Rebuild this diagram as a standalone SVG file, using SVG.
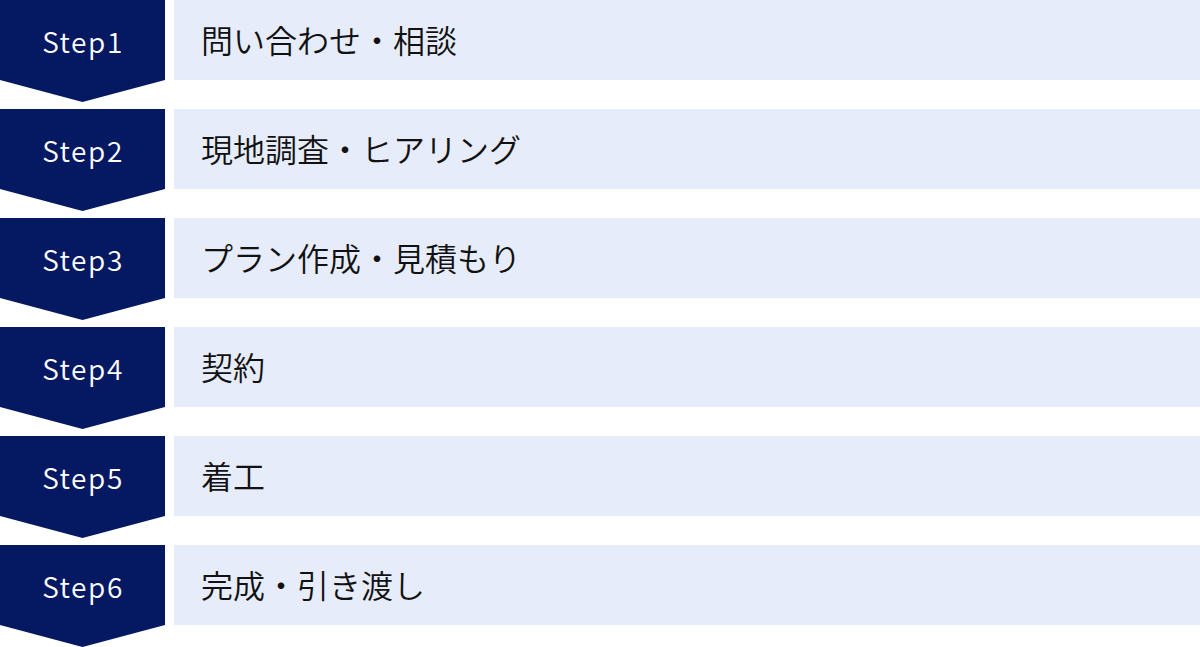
<svg xmlns="http://www.w3.org/2000/svg" width="1200" height="647" viewBox="0 0 1200 647">
<style>
.chev{fill:#051862}
.box{fill:#e6ecf9}
.step{font-family:"Noto Sans CJK JP","Noto Sans",sans-serif;font-size:28px;font-weight:350;fill:#ffffff;text-anchor:middle;letter-spacing:1.6px}
.lbl{font-family:"Noto Sans CJK JP","Noto Sans",sans-serif;font-size:32px;font-weight:350;fill:#111111}
</style>
<rect width="1200" height="647" fill="#ffffff"/>
<g id="step1">
<path class="chev" d="M0,0H165V80L82.5,102L0,80Z"/>
<rect class="box" x="174" y="0" width="1026" height="80"/>
<text class="step" x="83" y="53">Step1</text>
<text class="lbl" x="201" y="53">問い合わせ・相談</text>
</g>
<g id="step2">
<path class="chev" d="M0,109H165V189L82.5,211L0,189Z"/>
<rect class="box" x="174" y="109" width="1026" height="80"/>
<text class="step" x="83" y="162">Step2</text>
<text class="lbl" x="201" y="162">現地調査・ヒアリング</text>
</g>
<g id="step3">
<path class="chev" d="M0,218H165V298L82.5,320L0,298Z"/>
<rect class="box" x="174" y="218" width="1026" height="80"/>
<text class="step" x="83" y="271">Step3</text>
<text class="lbl" x="201" y="271">プラン作成・見積もり</text>
</g>
<g id="step4">
<path class="chev" d="M0,327H165V407L82.5,429L0,407Z"/>
<rect class="box" x="174" y="327" width="1026" height="80"/>
<text class="step" x="83" y="380">Step4</text>
<text class="lbl" x="201" y="380">契約</text>
</g>
<g id="step5">
<path class="chev" d="M0,436H165V516L82.5,538L0,516Z"/>
<rect class="box" x="174" y="436" width="1026" height="80"/>
<text class="step" x="83" y="489">Step5</text>
<text class="lbl" x="201" y="489">着工</text>
</g>
<g id="step6">
<path class="chev" d="M0,545H165V625L82.5,647L0,625Z"/>
<rect class="box" x="174" y="545" width="1026" height="80"/>
<text class="step" x="83" y="598">Step6</text>
<text class="lbl" x="201" y="598">完成・引き渡し</text>
</g>
<g id="connectors"></g>
</svg>
